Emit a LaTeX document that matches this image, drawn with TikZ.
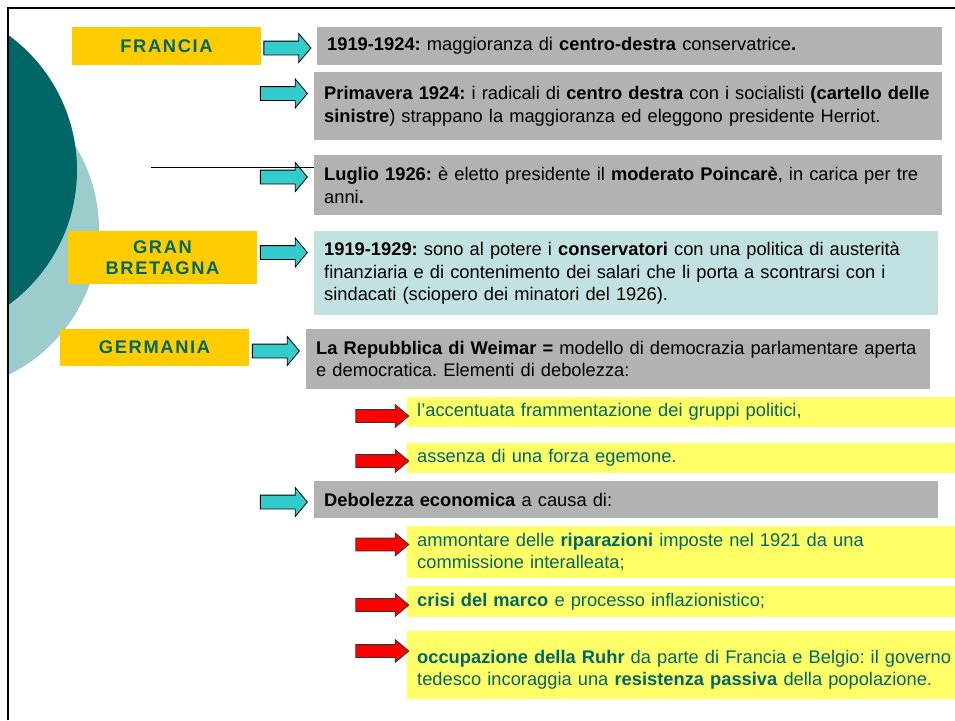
\documentclass[tikz,border=0pt]{standalone}
\usepackage{fontspec}
\setmainfont{Liberation Sans}
\newfontfamily\paesefont[LetterSpace=9]{Liberation Sans}
\usetikzlibrary{shapes.arrows}
\definecolor{scuro}{RGB}{0,102,102}
\definecolor{chiaro}{RGB}{156,204,204}
\definecolor{oro}{RGB}{255,204,0}
\definecolor{grigio}{RGB}{178,178,178}
\definecolor{azzurro}{RGB}{194,226,226}
\definecolor{giallo}{RGB}{255,255,102}
\definecolor{ciano}{RGB}{51,204,204}
\tikzset{paese/.style={fill=oro, text=scuro, align=center, inner sep=0pt,
  font=\fontsize{18.3}{21.5}\paesefont\bfseries, minimum width=189pt}}
\tikzset{g/.style={fill=grigio, anchor=north west, align=left, inner xsep=10pt,
  inner ysep=1pt, font=\fontsize{18.3}{22.5}\selectfont}}
\tikzset{gl/.style={g, fill=giallo, text=scuro, text width=545pt}}
\tikzset{fc/.style={single arrow, draw=black, fill=ciano, line width=0.8pt,
  inner sep=6.5pt, single arrow head extend=7.5pt, single arrow tip angle=100,
  minimum height=47pt, minimum width=28pt}}
\tikzset{fr/.style={single arrow, draw=black!80, fill=red, line width=0.8pt,
  inner sep=6pt, single arrow head extend=5pt, single arrow tip angle=80,
  minimum height=53pt, minimum width=22pt}}
\frenchspacing

\begin{document}
\begin{tikzpicture}[x=1pt,y=-1pt]
  \useasboundingbox (0,0) rectangle (955,720);
  \begin{scope}
    \clip (8,8) rectangle (955,720);
    \fill[chiaro] (-62,230) circle (161pt);
    \fill[scuro] (-90,170) circle (167pt);
  \end{scope}
  \draw[line width=2.5pt] (8,720) -- (8,8) -- (955,8);

  % paesi
  \node[paese, minimum height=38pt] (fra) at (166.5,46) {FRANCIA};
  \node[paese, minimum height=53pt] (gb) at (162.5,257.5) {GRAN\\BRETAGNA};
  \node[paese, minimum height=37pt] (ger) at (154.5,347.5) {GERMANIA};

  % Francia
  \node[g, text width=605pt, minimum height=38pt] (f1) at (317,27)
    {\textbf{1919-1924:} maggioranza di \textbf{centro-destra} conservatrice\textbf{.}};
  \node[g, text width=608pt, minimum height=68pt] (f2) at (314,72)
    {\textbf{Primavera 1924:} i radicali di \textbf{centro destra} con i socialisti \textbf{(cartello delle}\\
     \textbf{sinistre}) strappano la maggioranza ed eleggono presidente Herriot.};
  \node[g, text width=608pt, minimum height=60pt] (f3) at (314,155)
    {\textbf{Luglio 1926:} è eletto presidente il \textbf{moderato Poincarè}, in carica per tre\\
     anni\textbf{.}};

  % Gran Bretagna
  \node[g, fill=azzurro, text width=604pt, minimum height=84pt] (b1) at (314,231)
    {\textbf{1919-1929:} sono al potere i \textbf{conservatori} con una politica di austerità\\
     finanziaria e di contenimento dei salari che li porta a scontrarsi con i\\
     sindacati (sciopero dei minatori del 1926).};

  % Germania
  \node[g, text width=604pt, minimum height=60pt] (w) at (306,329)
    {\textbf{La Repubblica di Weimar =} modello di democrazia parlamentare aperta\\
     e democratica. Elementi di debolezza:};
  \node[gl, minimum height=30pt] (w1) at (407,397)
    {l’accentuata frammentazione dei gruppi politici,};
  \node[gl, minimum height=30pt] (w2) at (407,443)
    {assenza di una forza egemone.};
  \node[g, text width=604pt, minimum height=37pt] (d) at (314,481)
    {\textbf{Debolezza economica} a causa di:};
  \node[gl, minimum height=52pt] (d1) at (407,526)
    {ammontare delle \textbf{riparazioni} imposte nel 1921 da una\\
     commissione interalleata;};
  \node[gl, minimum height=31pt] (d2) at (407,586)
    {\textbf{crisi del marco} e processo inflazionistico;};
  \node[gl, minimum height=68pt] (d3) at (407,631)
    {\mbox{}\\
     \textbf{occupazione della Ruhr} da parte di Francia e Belgio: il governo\\
     tedesco incoraggia una \textbf{resistenza passiva} della popolazione.};

  % frecce
  \node[fc] (a1) at (284.5,48) {};
  \node[fc] (a2) at (281,93.5) {};
  \node[fc] (a3) at (281,177) {};
  \node[fc] (a4) at (281,252.5) {};
  \node[fc] (a5) at (273,351) {};
  \node[fc] (a6) at (281,502) {};
  \node[fr] (r1) at (378.5,416) {};
  \node[fr] (r2) at (378.5,461) {};
  \node[fr] (r3) at (378.5,544.5) {};
  \node[fr] (r4) at (378.5,605) {};
  \node[fr] (r5) at (378.5,651) {};

  \coordinate (ls) at (151,167);
  \draw[line width=0.8pt] (ls) -- (ls -| f3.west);
\end{tikzpicture}
\end{document}
